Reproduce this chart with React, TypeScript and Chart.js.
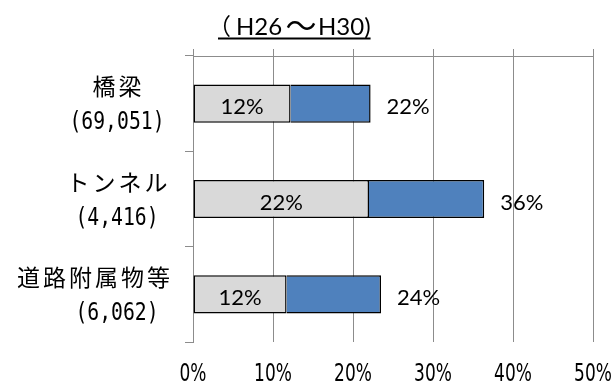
import React, { useEffect, useRef } from 'react';
import { Chart, registerables } from 'chart.js';
Chart.register(...registerables);

const categories = ['橋梁', 'トンネル', '道路附属物等'];
const counts = ['(69,051)', '(4,416)', '(6,062)'];
const innerShare = [12.2, 22.0, 11.7];
const totalShare = [22.2, 36.4, 23.5];
const xTicks = [0, 10, 20, 30, 40, 50];
const titleParts = ['（', 'H26', '〜', 'H30)'];

const GRID = '#8c8c8c';
const LABEL_FONT = '22px Lato, "Noto Sans", sans-serif';
const CJK_FONT = '"Noto Sans CJK JP", sans-serif';

function condensedText(ctx: any, text: string, x: number, y: number, sx: number) {
  ctx.save();
  ctx.translate(x, y);
  ctx.scale(sx, 1);
  ctx.fillText(text, 0, 0);
  ctx.restore();
}

const overlay = {
  id: 'overlay',
  afterDatasetsDraw(chart: any) {
    const ctx = chart.ctx;
    const m0 = chart.getDatasetMeta(0);
    const m1 = chart.getDatasetMeta(1);
    ctx.save();
    ctx.fillStyle = '#000';
    ctx.font = LABEL_FONT;
    ctx.textBaseline = 'alphabetic';
    m0.data.forEach((bar: any, i: number) => {
      const p = bar.getProps(['x', 'base', 'y'], true);
      ctx.textAlign = 'center';
      ctx.fillText(Math.round(innerShare[i]) + '%', (p.x + p.base) / 2, p.y + 10.5);
      const b1 = m1.data[i].getProps(['x'], true);
      ctx.textAlign = 'left';
      ctx.fillText(Math.round(totalShare[i]) + '%', b1.x + 16, p.y + 10.5);
    });
    ctx.restore();
  },
  afterDraw(chart: any) {
    const ctx = chart.ctx;
    const ys = chart.scales.y;
    const xs = chart.scales.x;
    ctx.save();
    ctx.fillStyle = '#000';
    // x tick labels (condensed)
    ctx.font = '25px "DejaVu Sans", sans-serif';
    ctx.textAlign = 'center';
    ctx.textBaseline = 'alphabetic';
    xTicks.forEach((v) => {
      condensedText(ctx, v + '%', xs.getPixelForValue(v), xs.bottom - 4, 0.68);
    });
    // category labels
    const rightEdge = 170;
    const centerX = 117;
    categories.forEach((c, i) => {
      const cy = ys.getPixelForValue(i);
      ctx.font = '23px ' + CJK_FONT;
      (ctx as any).letterSpacing = '3px';
      ctx.textBaseline = 'middle';
      ctx.textAlign = 'center';
      const w1 = ctx.measureText(c).width - 3;
      const c1 = Math.min(centerX, rightEdge - w1 / 2);
      ctx.fillText(c, c1 + 1.5, cy - 17);
      (ctx as any).letterSpacing = '0px';
      ctx.font = '25px "DejaVu Sans Mono", monospace';
      const sx = 0.79;
      const w2 = ctx.measureText(counts[i]).width * sx;
      const c2 = Math.min(centerX, rightEdge - w2 / 2);
      condensedText(ctx, counts[i], c2, cy + 19, sx);
    });
    // title
    ctx.textBaseline = 'alphabetic';
    const base = 34.5;
    ctx.font = '23px ' + CJK_FONT;
    ctx.textAlign = 'right';
    ctx.fillText(titleParts[0], 231, base);
    ctx.font = '24px Lato, sans-serif';
    ctx.textAlign = 'left';
    ctx.fillText(titleParts[1], 236, base);
    ctx.font = '31px ' + CJK_FONT;
    ctx.textAlign = 'center';
    ctx.fillText(titleParts[2], 301, base + 2);
    ctx.font = '24px Lato, sans-serif';
    ctx.textAlign = 'left';
    ctx.fillText(titleParts[3], 318, base);
    const endX = 318 + ctx.measureText(titleParts[3]).width;
    ctx.fillRect(218, 37.5, endX - 218, 2);
    ctx.restore();
  },
};

export default function App() {
  const ref = useRef<HTMLCanvasElement | null>(null);
  useEffect(() => {
    if (!ref.current) return;
    const chart = new Chart(ref.current, {
      type: 'bar',
      data: {
        labels: categories,
        datasets: [
          {
            data: innerShare,
            backgroundColor: '#D9D9D9',
            borderColor: '#000',
            borderWidth: 1.5,
            borderSkipped: false,
          },
          {
            data: totalShare.map((t, i) => +(t - innerShare[i]).toFixed(2)),
            backgroundColor: '#4F81BD',
            borderColor: '#000',
            borderWidth: { top: 1.5, right: 1.5, bottom: 1.5, left: 0 },
            borderSkipped: false,
          },
        ],
      },
      options: {
        indexAxis: 'y',
        animation: false,
        responsive: true,
        maintainAspectRatio: false,
        datasets: { bar: { barPercentage: 0.4, categoryPercentage: 1 } },
        layout: { padding: { left: 0, right: 21, top: 49, bottom: 0 } },
        plugins: { legend: { display: false }, tooltip: { enabled: false }, title: { display: false } },
        scales: {
          x: {
            type: 'linear',
            stacked: true,
            min: 0,
            max: 50,
            position: 'bottom',
            afterBuildTicks: (s: any) => {
              s.ticks = xTicks.map((v) => ({ value: v }));
            },
            ticks: { display: false },
            grid: { color: GRID, lineWidth: 1, drawTicks: false },
            border: { display: false },
            afterFit: (s: any) => {
              s.height = 43;
              s.paddingLeft = 0;
              s.paddingRight = 0;
            },
          },
          x2: {
            type: 'linear',
            position: 'top',
            min: 0,
            max: 50,
            afterBuildTicks: (s: any) => {
              s.ticks = xTicks.map((v) => ({ value: v }));
            },
            ticks: { display: false },
            grid: { drawOnChartArea: false, color: GRID, tickLength: 7 },
            border: { display: true, color: GRID },
            afterFit: (s: any) => {
              s.height = 7;
              s.paddingLeft = 0;
              s.paddingRight = 0;
            },
          },
          y: {
            type: 'category',
            stacked: true,
            position: 'left',
            ticks: { display: false },
            grid: { drawOnChartArea: false, color: GRID, tickLength: 8, offset: true },
            border: { display: true, color: GRID },
            afterFit: (s: any) => {
              s.width = 193;
              s.paddingTop = 0;
              s.paddingBottom = 0;
            },
          },
        },
      } as any,
      plugins: [overlay],
    });
    return () => chart.destroy();
  }, []);
  return (
    <div style={{ position: 'absolute', left: 0, top: 0, width: 614, height: 385, background: '#fff' }}>
      <canvas ref={ref} />
    </div>
  );
}
